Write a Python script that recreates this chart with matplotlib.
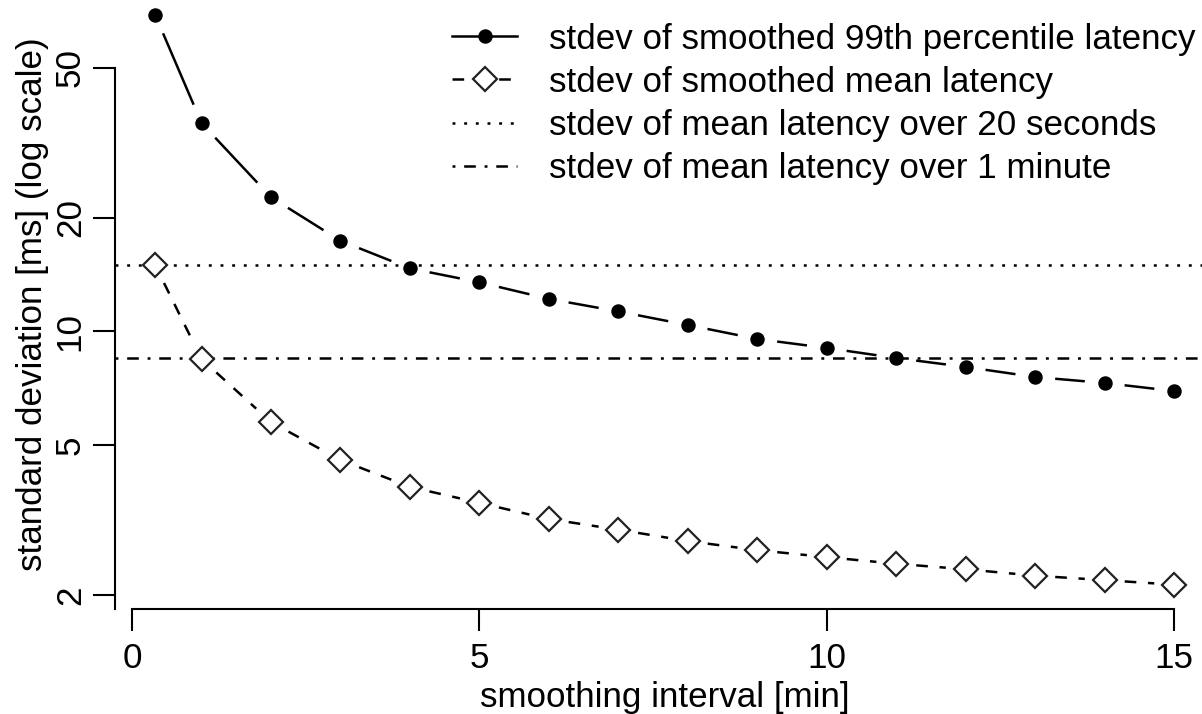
import numpy as np
import matplotlib
matplotlib.use("Agg")
import matplotlib.pyplot as plt
from matplotlib.lines import Line2D

# ---------------------------
# DATA
# ---------------------------
interval_min = [1/3, 1, 2, 3, 4, 5, 6, 7, 8, 9, 10, 11, 12, 13, 14, 15]
sd_p99 = [69.1, 35.7, 22.7, 17.4, 14.7, 13.5, 12.2, 11.3, 10.4, 9.55,
          9.04, 8.50, 8.05, 7.57, 7.30, 6.95]
sd_mean = [15.0, 8.45, 5.75, 4.56, 3.87, 3.51, 3.18, 2.98, 2.78, 2.63,
           2.52, 2.42, 2.34, 2.25, 2.19, 2.13]
sd_mean_20s = 15.0
sd_mean_1min = 8.5

yticks = [2, 5, 10, 20, 50]
xticks = [0, 5, 10, 15]

labels = ["stdev of smoothed 99th percentile latency",
          "stdev of smoothed mean latency",
          "stdev of mean latency over 20 seconds",
          "stdev of mean latency over 1 minute"]

# ---------------------------
# STYLE
# ---------------------------
plt.rcParams['font.family'] = ['Liberation Sans', 'DejaVu Sans']
plt.rcParams['lines.scale_dashes'] = False
FS = 25.2
LW = 1.8
DASHED = (0, (8.4, 8.4))
DOTTED = (0, (2.1, 6.3))
DOTDASH = (0, (2.1, 6.3, 8.4, 6.3))

W, H = 1202, 714
fig = plt.figure(figsize=(W / 100, H / 100), dpi=100)
ax = fig.add_axes([115 / W, (H - 609) / H, 1 - 115 / W, 609 / H])
ax.set_yscale('log')
ax.set_xlim(-0.245, 15.40)
ax.set_ylim(1.836, 75.7)


def gapped(x, y, gap_px):
    # R type="b": segments between points, cut short near each point
    pts = ax.transData.transform(np.column_stack([x, y]))
    inv = ax.transData.inverted()
    segs = []
    for p0, p1 in zip(pts[:-1], pts[1:]):
        d = p1 - p0
        L = np.hypot(*d)
        if L <= 2 * gap_px:
            continue
        u = d / L
        segs.append(inv.transform([p0 + u * gap_px, p1 - u * gap_px]))
    return segs


for s in gapped(interval_min, sd_p99, 20):
    ax.plot(s[:, 0], s[:, 1], color='black', lw=LW, solid_capstyle='butt', zorder=2)
for s in gapped(interval_min, sd_mean, 20):
    ax.plot(s[:, 0], s[:, 1], color='black', lw=LW, ls=DASHED,
            dash_capstyle='butt', zorder=2)

ax.axhline(sd_mean_20s, color='black', lw=LW, ls=DOTTED, dash_capstyle='butt', zorder=1)
ax.axhline(sd_mean_1min, color='black', lw=LW, ls=DOTDASH, dash_capstyle='butt', zorder=1)

ax.plot(interval_min, sd_p99, ls='none', marker='o', ms=9.4,
        mfc='black', mec='black', zorder=4)
ax.plot(interval_min, sd_mean, ls='none', marker='D', ms=12.0,
        mfc='white', mec='#222222', mew=1.6, zorder=4)

# axes in R style
for side in ['top', 'right']:
    ax.spines[side].set_visible(False)
ax.spines['left'].set_linewidth(1.5)
ax.spines['bottom'].set_linewidth(1.5)
ax.spines['left'].set_bounds(1.836, 50)
ax.spines['bottom'].set_bounds(0, 15)

ax.set_yticks(yticks)
ax.set_yticklabels([str(v) for v in yticks])
ax.yaxis.set_minor_locator(matplotlib.ticker.NullLocator())
ax.set_xticks(xticks)
ax.set_xticklabels([str(v) for v in xticks])
ax.tick_params(axis='both', direction='out', length=15.8, width=1.5,
               labelsize=FS, colors='black')
ax.tick_params(axis='y', pad=4.5, labelrotation=90)
ax.tick_params(axis='x', pad=8)
for lab in ax.get_yticklabels():
    lab.set_va('center')

fig.text(665 / W, 1 - 697 / H, "smoothing interval [min]", fontsize=FS,
         ha='center', va='center')
fig.text(33 / W, 1 - 304 / H, "standard deviation [ms] (log scale)", fontsize=FS,
         ha='center', va='center', rotation=90)

handles = [
    Line2D([], [], color='black', lw=LW, marker='o', ms=9.4),
    Line2D([], [], color='black', lw=LW, ls=DASHED, marker='D', ms=12.0,
           mfc='white', mec='#222222', mew=1.6),
    Line2D([], [], color='black', lw=LW, ls=DOTTED),
    Line2D([], [], color='black', lw=LW, ls=DOTDASH),
]
ax.legend(handles, labels, loc='upper left', bbox_to_anchor=(452 / W, 1 - 22.5 / H),
          bbox_transform=fig.transFigure, frameon=False, fontsize=FS,
          handlelength=1.87, handletextpad=0.9, labelspacing=0.29,
          borderpad=0, borderaxespad=0, numpoints=1)

fig.savefig("out.png", dpi=100)
